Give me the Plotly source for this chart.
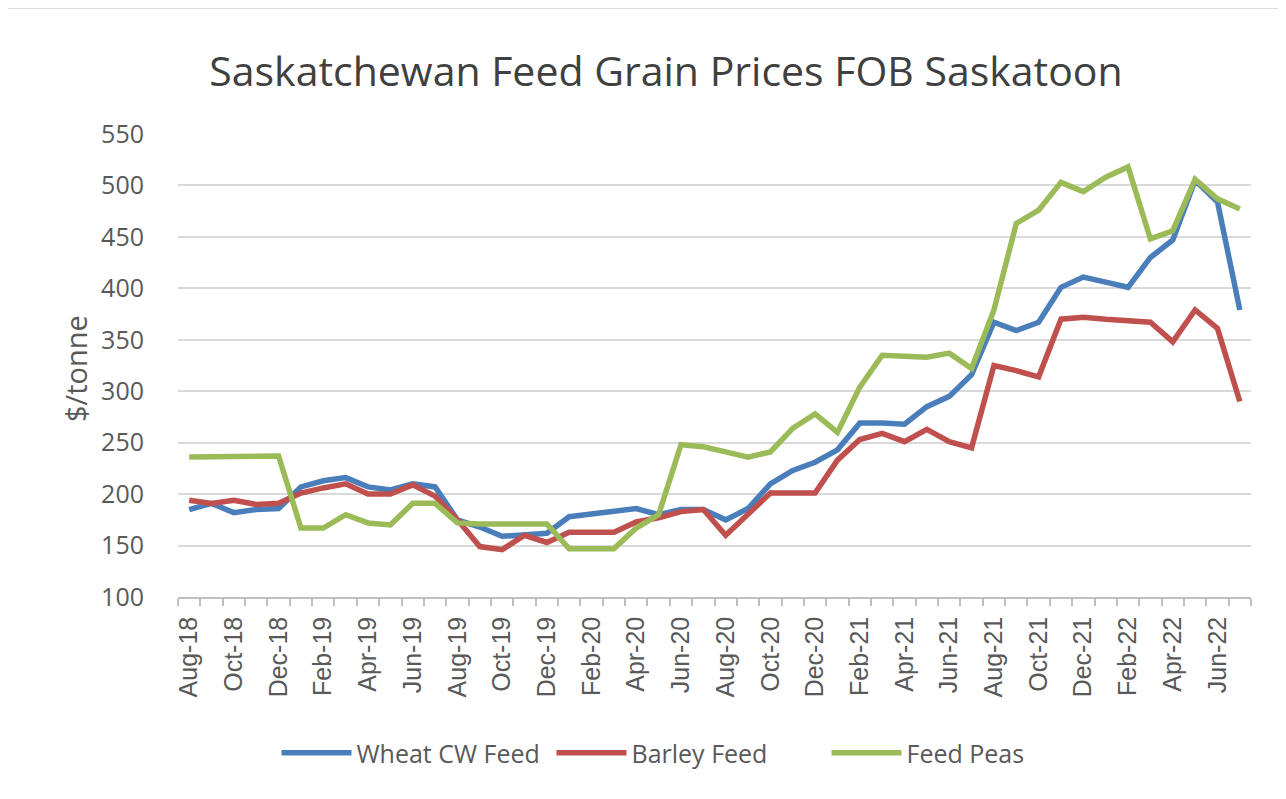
import plotly.graph_objects as go

months = ["Aug-18", "Sep-18", "Oct-18", "Nov-18", "Dec-18", "Jan-19", "Feb-19", "Mar-19",
          "Apr-19", "May-19", "Jun-19", "Jul-19", "Aug-19", "Sep-19", "Oct-19", "Nov-19",
          "Dec-19", "Jan-20", "Feb-20", "Mar-20", "Apr-20", "May-20", "Jun-20", "Jul-20",
          "Aug-20", "Sep-20", "Oct-20", "Nov-20", "Dec-20", "Jan-21", "Feb-21", "Mar-21",
          "Apr-21", "May-21", "Jun-21", "Jul-21", "Aug-21", "Sep-21", "Oct-21", "Nov-21",
          "Dec-21", "Jan-22", "Feb-22", "Mar-22", "Apr-22", "May-22", "Jun-22", "Jul-22"]

wheat = [185, 191, 182, 185, 186, 207, 213, 216, 207, 204, 210, 207,
         175, 168, 159, 160, 162, 178, 181, 183, 186, 180, 185, 185,
         175, 186, 210, 223, 231, 243, 269, 269, 268, 285, 295, 316,
         367, 359, 367, 401, 411, 406, 401, 430, 447, 505, 484, 379]

barley = [194, 191, 194, 190, 191, 201, 206, 210, 200, 200, 209, 198,
          175, 149, 146, 160, 153, 163, 163, 163, 173, 177, 183, 185,
          160, 181, 201, 201, 201, 233, 253, 259, 251, 263, 251, 245,
          325, 320, 314, 370, 372, 370, 369, 367, 348, 379, 361, 290]

peas = [236, 236, 236, 237, 237, 167, 167, 180, 172, 170, 191, 191,
        172, 171, 171, 171, 171, 147, 147, 147, 167, 180, 248, 246,
        241, 236, 241, 264, 278, 260, 304, 335, 334, 333, 337, 322,
        379, 463, 476, 503, 494, 508, 518, 448, 456, 506, 487, 477]

tick_labels = [m if i % 2 == 0 else "" for i, m in enumerate(months)]
y_ticks = [100, 150, 200, 250, 300, 350, 400, 450, 500, 550]

series = [("Wheat CW Feed", wheat, "#4A7EBB"),
          ("Barley Feed", barley, "#C0504D"),
          ("Feed Peas", peas, "#9BBB59")]

fig = go.Figure()
for name, vals, col in series:
    fig.add_trace(go.Scatter(x=months, y=vals, name=name, mode="lines",
                             line=dict(color=col, width=5.5)))

OFF = 8  # page body margin
W, H = 1286 - OFF, 799 - OFF
L, T = 178 - OFF, 134 - OFF
pw, ph = 1073, 463
R, B = W - L - pw, H - T - ph


def px_x(x):
    return (x - OFF - L) / pw


def px_y(y):
    return (T + ph - (y - OFF)) / ph


fig.update_layout(
    width=W, height=H,
    margin=dict(l=L, r=R, t=T, b=B),
    paper_bgcolor="white", plot_bgcolor="white",
    font=dict(family="Open Sans", color="#595959"),
    title=dict(text="Saskatchewan Feed Grain Prices FOB Saskatoon",
               x=(666 - OFF) / W, xanchor="center", y=1 - (72 - OFF) / H, yanchor="middle",
               font=dict(family="Open Sans", size=41, color="#404040")),
    showlegend=True,
    legend=dict(orientation="h", x=px_x(689), xanchor="center",
                y=px_y(753), yanchor="middle",
                font=dict(family="Open Sans", size=25, color="#595959"),
                itemwidth=70, entrywidth=190, entrywidthmode="pixels",
                bgcolor="rgba(0,0,0,0)"),
)

fig.update_xaxes(
    type="category", tickmode="array", tickvals=months, ticktext=tick_labels,
    tickson="boundaries", ticks="outside", ticklen=7, tickcolor="#bfbfbf", tickwidth=1.5,
    tickangle=-90, tickfont=dict(family="Liberation Sans", size=25, color="#595959"),
    showline=True, linecolor="#bfbfbf", linewidth=1.5, ticklabelstandoff=8,
    showgrid=False, range=[-0.5, len(months) - 0.5],
)
fig.update_yaxes(
    range=[100, 550], tickmode="array", tickvals=y_ticks,
    tickfont=dict(family="Open Sans", size=25, color="#595959"),
    showgrid=True, gridcolor="#d9d9d9", gridwidth=2,
    zeroline=False, showline=False,
    ticks="outside", ticklen=28, tickcolor="rgba(0,0,0,0)",
)

fig.add_annotation(text="$/tonne", xref="paper", yref="paper",
                   x=px_x(75), y=px_y(369), showarrow=False,
                   textangle=-90, xanchor="center", yanchor="middle",
                   font=dict(family="Open Sans", size=29, color="#595959"))

fig.add_shape(type="rect", xref="paper", yref="paper",
              x0=px_x(5), x1=px_x(1281),
              y0=px_y(815), y1=px_y(8),
              line=dict(color="#d0d0d0", width=1.5), fillcolor="rgba(0,0,0,0)",
              layer="below")

fig.write_html("out.html")
